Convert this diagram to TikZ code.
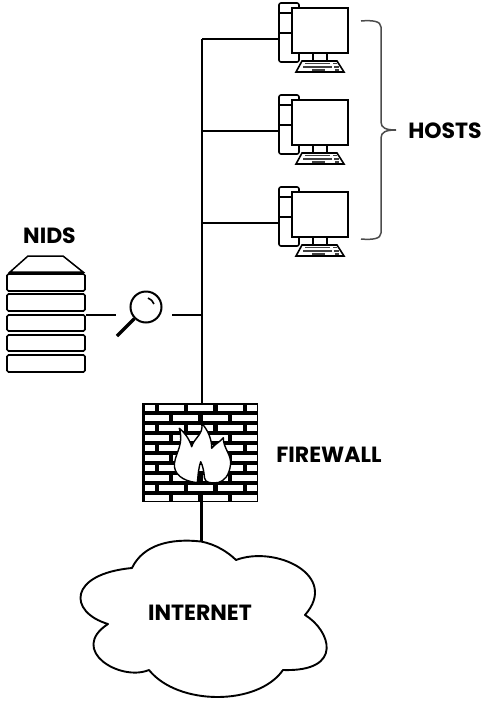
\documentclass[tikz,border=0pt]{standalone}
\usepackage{fontspec}
\setmainfont{Poppins}
\usetikzlibrary{positioning,calc}

\tikzset{
  netlabel/.style={font=\fontsize{22}{24}\selectfont\bfseries, inner sep=0pt},
  wire/.style={line width=2.2pt, black},
  outline/.style={line width=1.6pt, black},
  keyrow/.style={line width=1.4pt, black!75},
  rackbox/.style={draw, line width=1.6pt, rounded corners=1.5pt},
  brick/.style={fill=white}
}

\begin{document}
\begin{tikzpicture}[x=1pt, y=-1pt]
\useasboundingbox (0,0) rectangle (484,702);

% Trunk and branches
\coordinate (trunktop) at (202,39);
\coordinate (trunktap) at (202,315);
\draw[wire] (trunktop) -- (202,405);

% Hosts
\foreach \i/\y in {1/0,2/92,3/184} {
  \begin{scope}[shift={(0,\y)}]
    \coordinate (tower\i) at (279,39);
    \coordinate (branch\i) at (202,39);
    \draw[wire] (branch\i) -- (tower\i);
    \draw[outline, rounded corners=2pt] (279,3) rectangle (299,62);
    \draw[outline] (279,13) -- (292,13);
    \draw[outline] (279,33) -- (292,33);
    \draw[outline, fill=white] (292,8) rectangle (348,53);
    \draw[outline] (313,53) -- (313,61);
    \draw[outline] (327,53) -- (327,61);
    \draw[outline, fill=white] (302,61) -- (337,61) -- (344,72) -- (296,72) -- cycle;
    \draw[keyrow] (305,63.7) -- (330,63.7);
    \draw[keyrow] (333,63.7) -- (337,63.7);
    \draw[keyrow] (303,67) -- (332,67);
    \draw[keyrow] (334,67) -- (339,67);
    \draw[keyrow] (312,70) -- (325,70);
    \draw[keyrow] (335,70) -- (339,70);
  \end{scope}
}

% Bracket for the hosts
\draw[line width=1.5pt, black!70] (361,21) .. controls (372,20) and (381,21) .. (381,27)
  -- (381,122) .. controls (381,128) and (386,130) .. (396,130)
  .. controls (386,130) and (381,132) .. (381,138)
  -- (381,233) .. controls (381,239) and (372,240) .. (361,239);
\node[netlabel] (hosts) at (445,131) {HOSTS};

% NIDS rack
\node[netlabel] (nids) at (49.5,236) {NIDS};
\draw[line width=1.5pt] (28,256) -- (63,256) -- (83,272) -- (10,272) -- cycle;
\draw[rackbox] (7,274) rectangle (85,291);
\draw[rackbox] (7,294) rectangle (85,311);
\draw[rackbox] (7,315) rectangle (85,331);
\draw[rackbox] (7,335) rectangle (85,351);
\draw[rackbox] (7,355) rectangle (85,372);
\coordinate (rackport) at (86,315);

% Tap with magnifier
\node[circle, draw, line width=2pt, minimum size=31pt, inner sep=0pt] (lens) at (146,307) {};
\coordinate (lensleft) at (116,315);
\coordinate (lensright) at (172,315);
\coordinate (handle) at (117,336);
\draw[line width=3.4pt] (lens.225) -- (handle);
\draw[line width=1.6pt] (148,298) arc[start angle=-70, end angle=-20, radius=10];
\draw[line width=1.8pt] (rackport) -- (lensleft);
\draw[line width=1.8pt] (lensright) -- (trunktap);

% Firewall
\node[fill=black, minimum width=116pt, minimum height=99pt, inner sep=0pt] (firewall) at (200,452.5) {};
\foreach \r in {0,2,4,6,8} {
  \begin{scope}[shift={(0,\r*10)}]
    \fill[brick] (144.5,405) rectangle (155,411);
    \fill[brick] (158.5,405) rectangle (184,411);
    \fill[brick] (187.5,405) rectangle (213,411);
    \fill[brick] (217.5,405) rectangle (243,411);
    \fill[brick] (246.5,405) rectangle (256.5,411);
    \fill[brick] (144.5,415) rectangle (169,421);
    \fill[brick] (173,415) rectangle (198,421);
    \fill[brick] (203,415) rectangle (228,421);
    \fill[brick] (232,415) rectangle (256.5,421);
  \end{scope}
}
% Flame
\draw[line width=1.4pt, fill=white, line join=round] (196,482.5)
  .. controls (183,481) and (173,474) .. (174.5,463)
  .. controls (176,452) and (184,444) .. (179.3,428.3)
  .. controls (184,432) and (189,438) .. (191.7,446.7)
  .. controls (194,438) and (204,434) .. (201.7,423.3)
  .. controls (208,430) and (212,440) .. (211.7,448.3)
  .. controls (215,444) and (220,442) .. (223.3,437.7)
  .. controls (223,448) and (232,455) .. (230.5,465)
  .. controls (229,476) and (224,481) .. (218.3,482.5)
  .. controls (212,483.5) and (205,483) .. (204.5,478)
  .. controls (204,472) and (203,466) .. (200.7,461.7)
  .. controls (199,466) and (198,474) .. (197.5,482)
  -- cycle;
\node[netlabel] (fwlabel) at (329,455) {FIREWALL};

% Cloud
\coordinate (cloudtop) at (201.5,541);
\draw[wire, line width=2.8pt] (firewall.south -| cloudtop) -- (cloudtop);
\draw[line width=1.9pt, fill=white, line join=round] (132,568)
  .. controls (143,545) and (170,538) .. (201,541.5)
  .. controls (215,544) and (228,552) .. (236,560)
  .. controls (275,545) and (340,575) .. (305,615)
  .. controls (330,630) and (345,672) .. (283,670)
  .. controls (258,706) and (178,706) .. (149,670)
  .. controls (120,682) and (68,650) .. (108,624)
  .. controls (68,612) and (68,574) .. (132,568)
  -- cycle;
\node[netlabel] (internet) at (200,613) {INTERNET};
\end{tikzpicture}
\end{document}
